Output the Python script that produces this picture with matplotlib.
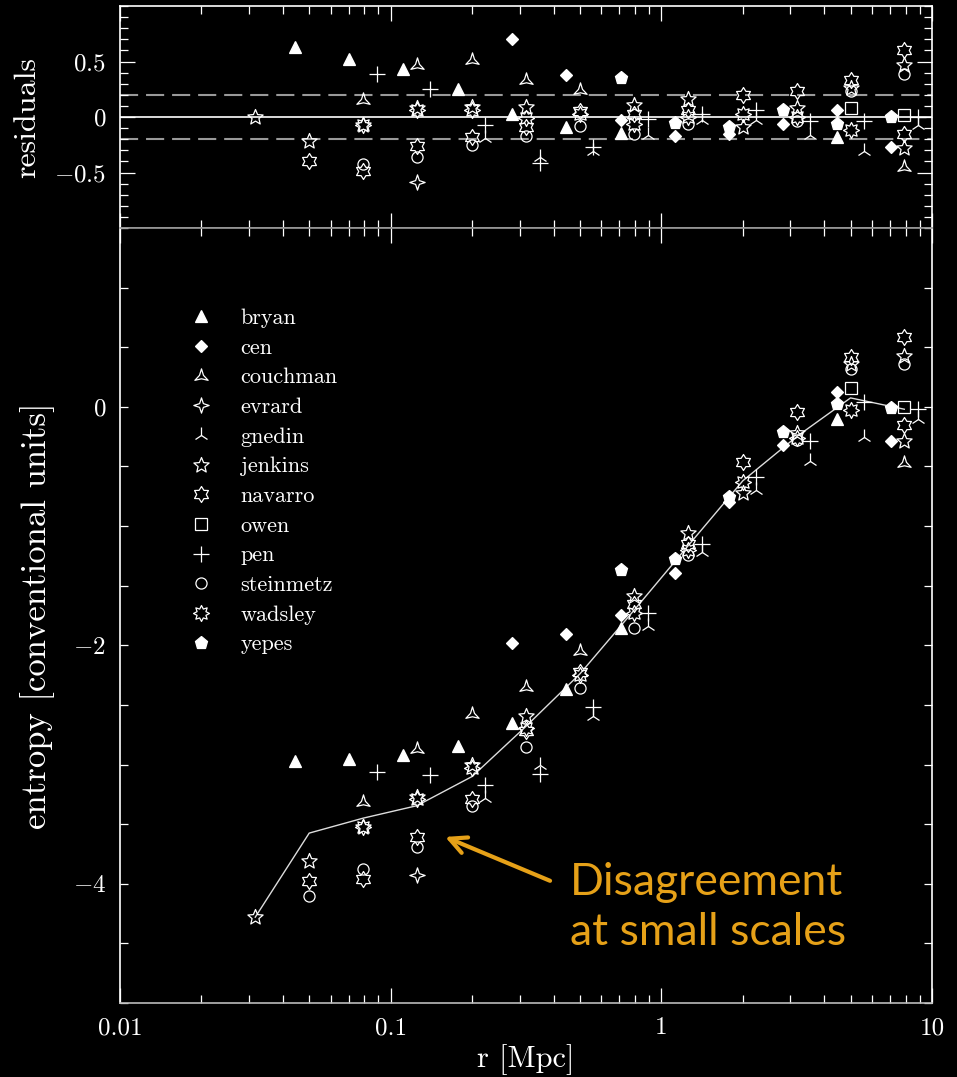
import numpy as np
import matplotlib
matplotlib.use('Agg')
import matplotlib.pyplot as plt
from matplotlib.path import Path
from matplotlib.ticker import FixedLocator, MultipleLocator, LogLocator, NullFormatter, FixedFormatter

plt.rcParams['font.family'] = ['cmr10', 'DejaVu Serif']
plt.rcParams['mathtext.fontset'] = 'cm'

# mean profile (white polyline)
r_mean = [0.0316, 0.05, 0.079, 0.125, 0.2, 0.316, 0.5, 0.79, 1.25, 2.0, 3.16, 5.0, 7.9]
S_mean = [-4.28, -3.575, -3.45, -3.345, -3.10, -2.68, -2.24, -1.71, -1.17, -0.62, -0.25, 0.075, -0.02]

# per-code entropy and residual values
r_bryan = [0.0444, 0.0702, 0.111, 0.177, 0.281, 0.445, 0.708, 4.44]
S_bryan = [-2.97, -2.95, -2.92, -2.845, -2.65, -2.37, -1.855, -0.098]
res_bryan = [0.63, 0.52, 0.43, 0.25, 0.03, -0.09, -0.14, -0.18]

r_cen = [0.281, 0.445, 0.708, 1.12, 1.78, 2.81, 4.47, 7.08]
S_cen = [-1.98, -1.905, -1.743, -1.395, -0.795, -0.32, 0.126, -0.29]
res_cen = [0.70, 0.38, -0.03, -0.17, -0.15, -0.06, 0.06, -0.27]

r_couchman = [0.079, 0.125, 0.2, 0.316, 0.5, 7.9]
S_couchman = [-3.31, -2.87, -2.58, -2.35, -2.05, -0.47]
res_couchman = [0.15, 0.47, 0.51, 0.33, 0.24, -0.45]

r_evrard = [0.125]
S_evrard = [-3.93]
res_evrard = [-0.59]

r_gnedin = [0.224, 0.355, 0.56, 0.89, 1.41, 2.24, 3.55, 5.6, 8.9]
S_gnedin = [-3.28, -3.0, -2.59, -1.84, -1.22, -0.70, -0.45, -0.25, -0.098]
res_gnedin = [-0.19, -0.36, -0.31, -0.16, -0.03, -0.03, -0.16, -0.31, -0.07]

r_jenkins = [0.0316, 0.05, 0.079, 0.125, 0.2, 0.316, 0.79, 1.25, 2.0, 3.16, 5.0, 7.9, 7.9]
S_jenkins = [-4.28, -3.81, -3.52, -3.27, -3.0, -2.59, -1.59, -1.06, -0.725, -0.22, 0.36, 0.43, -0.29]
res_jenkins = [0.0, -0.22, -0.07, 0.08, 0.09, 0.09, 0.11, 0.16, -0.09, 0.08, 0.26, 0.47, -0.28]

r_navarro = [0.05, 0.079, 0.125, 0.2, 0.316, 0.5, 0.79, 1.25, 2.0, 3.16, 5.0, 7.9, 7.9]
S_navarro = [-3.98, -3.96, -3.61, -3.29, -2.72, -2.22, -1.65, -1.15, -0.46, -0.04, 0.42, 0.586, -0.15]
res_navarro = [-0.395, -0.49, -0.26, -0.18, -0.09, 0.05, 0.03, 0.06, 0.20, 0.23, 0.33, 0.60, -0.15]

r_owen = [5.0, 7.9]
S_owen = [0.16, 0.0]
res_owen = [0.08, 0.02]

r_pen = [0.089, 0.14, 0.224, 0.355, 0.56, 0.89, 1.41, 2.24, 3.55, 5.6, 8.9]
S_pen = [-3.06, -3.09, -3.17, -3.08, -2.52, -1.73, -1.15, -0.586, -0.29, 0.04, -0.014]
res_pen = [0.39, 0.25, -0.07, -0.41, -0.27, -0.02, 0.03, 0.06, -0.04, -0.04, 0.0]

r_steinmetz = [0.05, 0.079, 0.125, 0.2, 0.316, 0.5, 0.79, 1.25, 3.16, 5.0, 7.9]
S_steinmetz = [-4.10, -3.88, -3.69, -3.35, -2.85, -2.36, -1.855, -1.24, -0.28, 0.32, 0.36]
res_steinmetz = [np.nan, -0.42, -0.36, -0.25, -0.17, -0.08, -0.15, -0.06, -0.04, 0.23, 0.39]

r_wadsley = [0.079, 0.125, 0.2, 0.316, 0.5, 0.79, 1.25, 2.0, 3.16, 5.0]
S_wadsley = [-3.52, -3.29, -3.03, -2.69, -2.245, -1.73, -1.2, -0.63, -0.26, -0.03]
res_wadsley = [-0.07, 0.06, 0.06, -0.01, 0.03, -0.06, 0.0, 0.03, 0.0, -0.12]

r_yepes = [0.708, 1.12, 1.78, 2.81, 4.47, 7.08]
S_yepes = [-1.367, -1.275, -0.753, -0.21, 0.02, -0.01]
res_yepes = [0.35, -0.05, -0.09, 0.06, -0.06, 0.0]

names = ['bryan', 'cen', 'couchman', 'evrard', 'gnedin', 'jenkins',
         'navarro', 'owen', 'pen', 'steinmetz', 'wadsley', 'yepes']
r_all = [r_bryan, r_cen, r_couchman, r_evrard, r_gnedin, r_jenkins,
         r_navarro, r_owen, r_pen, r_steinmetz, r_wadsley, r_yepes]
S_all = [S_bryan, S_cen, S_couchman, S_evrard, S_gnedin, S_jenkins,
         S_navarro, S_owen, S_pen, S_steinmetz, S_wadsley, S_yepes]
res_all = [res_bryan, res_cen, res_couchman, res_evrard, res_gnedin, res_jenkins,
           res_navarro, res_owen, res_pen, res_steinmetz, res_wadsley, res_yepes]


def star(n, inner):
    return Path.unit_regular_star(n, inner)


# marker, size, filled
styles = {
    'bryan': ('^', 8, True),
    'cen': ('D', 6.5, True),
    'couchman': (star(3, 0.3), 11, False),
    'evrard': (star(4, 0.35), 11, False),
    'gnedin': ('2', 11, False),
    'jenkins': (star(5, 0.45), 11.5, False),
    'navarro': (star(6, 0.6), 11.5, False),
    'owen': ('s', 8, False),
    'pen': ('+', 12, False),
    'steinmetz': ('o', 8, False),
    'wadsley': (star(8, 0.6), 11.5, False),
    'yepes': ('p', 9.5, True),
}

orange = '#E6A118'

fig = plt.figure(figsize=(9.57, 10.77), dpi=100, facecolor='black')
ax_res = fig.add_axes([0.1254, 0.7883, 0.8485, 0.2061])
ax = fig.add_axes([0.1254, 0.0687, 0.8485, 0.7196])

for a in (ax_res, ax):
    a.set_facecolor('black')
    a.set_xscale('log')
    a.set_xlim(0.01, 10)
    for s in a.spines.values():
        s.set_color('white')
        s.set_linewidth(1.2)
    a.tick_params(which='both', direction='in', top=True, right=True,
                  colors='white', width=0.9, labelsize=18, pad=10)
    a.tick_params(which='major', length=11)
    a.tick_params(which='minor', length=5.5)
    a.xaxis.set_major_locator(LogLocator(base=10, numticks=10))
    a.xaxis.set_minor_locator(LogLocator(base=10, subs=np.arange(2, 10), numticks=20))
    a.xaxis.set_minor_formatter(NullFormatter())

ax_res.spines['bottom'].set_color('#999999')
ax.spines['top'].set_color('#999999')
ax.spines['bottom'].set_color('#bbbbbb')

# residual panel
ax_res.set_ylim(-1, 1)
ax_res.axhline(0, color='white', lw=1.2, zorder=1)
for lev in (0.2, -0.2):
    ax_res.axhline(lev, color='#999999', lw=1.5, dashes=(8.7, 3.8), zorder=1)
ax_res.yaxis.set_major_locator(FixedLocator([-0.5, 0, 0.5]))
ax_res.yaxis.set_major_formatter(FixedFormatter(['$-0.5$', '$0$', '$0.5$']))
ax_res.yaxis.set_minor_locator(MultipleLocator(0.1))
ax_res.xaxis.set_major_formatter(NullFormatter())
ax_res.set_ylabel('residuals', color='white', fontsize=23)
ax_res.yaxis.set_label_coords(-0.097, 0.5)

# entropy panel
ax.set_ylim(-5, 1.5)
ax.plot(r_mean, S_mean, color='#dddddd', lw=1.0, zorder=1)
ax.yaxis.set_major_locator(FixedLocator([-4, -2, 0]))
ax.yaxis.set_major_formatter(FixedFormatter(['$-4$', '$-2$', '$0$']))
ax.yaxis.set_minor_locator(MultipleLocator(0.5))
ax.tick_params(axis='y', which='major', length=5.5)
ax.xaxis.set_major_locator(FixedLocator([0.01, 0.1, 1, 10]))
ax.xaxis.set_major_formatter(FixedFormatter(['0.01', '0.1', '1', '10']))
ax.set_xlabel('r [Mpc]', color='white', fontsize=22, labelpad=4)
ax.set_ylabel('entropy [conventional units]', color='white', fontsize=25)
ax.yaxis.set_label_coords(-0.08, 0.5)

handles = []
for name, r, S, res in zip(names, r_all, S_all, res_all):
    m, ms, filled = styles[name]
    kw = dict(ls='none', marker=m, ms=ms, mec='white', mew=0.9,
              mfc='white' if filled else 'none', zorder=3)
    h, = ax.plot(r, S, label=name, **kw)
    ax_res.plot(r, res, **kw)
    handles.append(h)

leg = ax.legend(handles=handles, loc='upper left', bbox_to_anchor=(0.061, 0.922),
                frameon=False, fontsize=16, labelcolor='white', numpoints=1,
                handlelength=1.0, handletextpad=1.3, labelspacing=0.455,
                borderpad=0.4)

ax.annotate('', xy=(0.159, -3.607), xytext=(0.388, -3.975),
            arrowprops=dict(arrowstyle='->', color=orange, lw=3,
                            mutation_scale=30, shrinkA=0, shrinkB=0))
ax.text(0.46, -4.2, 'Disagreement\nat small scales', color=orange, fontsize=32,
        family='Lato', ha='left', va='center', linespacing=1.25)

fig.savefig('out.png', dpi=100, facecolor='black')
